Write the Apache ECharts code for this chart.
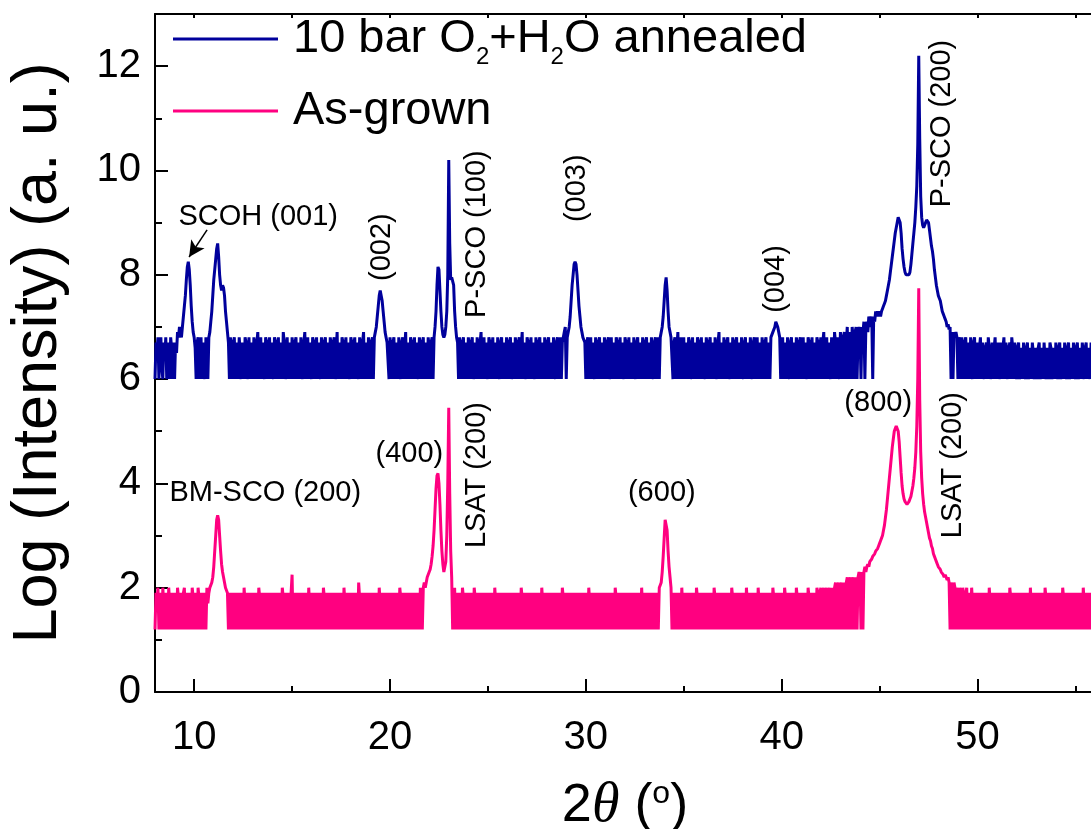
<!DOCTYPE html>
<html><head><meta charset="utf-8">
<script src="https://cdn.jsdelivr.net/npm/echarts@6/dist/echarts.min.js"></script>
<style>html,body{margin:0;padding:0;background:#fff}#chart{width:1091px;height:829px}</style>
</head><body><div id="chart"></div>
<script>
// ---------------- data ----------------
const twoThetaStart = 8.0;    // first 2θ sample (deg)
const twoThetaStep = 0.05;    // 2θ sampling step (deg)

const seriesNames = ['10 bar O2+H2O annealed', 'As-grown'];

// Log(Intensity), 10 bar O2+H2O annealed film, 2θ = 8.00 ... 56.00 (one row per degree)
const annealed = [
6.0,6.7,6.5,6.8,6.0,6.6,6.8,6.2,6.0,6.7,6.4,6.8,6.0,6.5,6.7,6.0,6.8,6.6,6.0,6.7,
6.0,6.7,6.5,6.9,6.8,7.0,6.9,6.8,7.0,7.2,7.4,7.6,7.9,8.15,8.25,8.1,7.8,7.4,7.1,6.9,
6.8,6.6,6.0,6.7,6.8,6.0,6.6,6.8,6.0,6.7,6.5,6.0,6.8,6.7,6.0,6.8,6.9,7.1,7.3,7.6,
7.9,8.1,8.3,8.5,8.6,8.35,8.0,7.8,7.7,7.8,7.75,7.6,7.3,7.1,6.9,6.7,6.0,6.8,6.6,6.0,
6.7,6.8,6.0,6.6,6.7,6.0,6.8,6.5,6.0,6.7,6.6,6.0,6.8,6.7,6.0,6.5,6.8,6.0,6.7,6.6,
6.0,6.8,6.6,6.0,6.7,6.9,6.0,6.6,6.8,6.0,6.7,6.5,6.0,6.8,6.7,6.0,6.6,6.8,6.0,6.7,
6.5,6.0,6.8,6.7,6.0,6.6,6.8,6.0,6.7,6.6,6.0,6.9,6.7,6.0,6.5,6.8,6.0,6.7,6.6,6.0,
6.8,6.6,6.0,6.7,6.8,6.0,6.6,6.7,6.0,6.8,6.5,6.0,6.7,6.9,6.0,6.6,6.8,6.0,6.7,6.5,
6.0,6.8,6.7,6.0,6.6,6.8,6.0,6.7,6.5,6.0,6.8,6.6,6.0,6.7,6.8,6.0,6.6,6.7,6.0,6.8,
6.6,6.0,6.7,6.8,6.0,6.5,6.9,6.0,6.7,6.6,6.0,6.8,6.7,6.0,6.6,6.8,6.0,6.7,6.5,6.0,
6.8,6.7,6.0,6.6,6.8,6.0,6.7,6.5,6.0,6.8,6.6,6.0,6.7,6.9,6.0,6.6,6.7,6.0,6.8,6.6,
6.0,6.7,6.8,6.0,6.8,6.9,7.0,7.2,7.4,7.6,7.7,7.7,7.5,7.3,7.1,6.9,6.8,6.7,6.7,6.0,
6.8,6.6,6.0,6.7,6.8,6.0,6.6,6.7,6.0,6.8,6.5,6.0,6.7,6.8,6.0,6.6,6.9,6.0,6.7,6.6,
6.0,6.8,6.7,6.0,6.6,6.8,6.0,6.7,6.5,6.0,6.8,6.6,6.0,6.7,6.8,6.0,6.6,6.7,6.0,6.8,
6.6,6.0,6.7,6.8,6.0,6.8,7.0,7.3,7.8,8.15,8.1,7.7,7.3,7.0,6.85,6.8,6.85,7.0,7.3,8.0,
10.2,8.6,7.9,7.95,7.95,7.8,7.3,7.0,6.8,6.7,6.0,6.8,6.6,6.0,6.7,6.8,6.0,6.6,6.7,6.0,
6.8,6.6,6.0,6.7,6.8,6.0,6.5,6.7,6.0,6.8,6.6,6.0,6.7,6.9,6.0,6.6,6.8,6.0,6.7,6.5,
6.0,6.8,6.7,6.0,6.6,6.8,6.0,6.7,6.6,6.0,6.8,6.5,6.0,6.7,6.8,6.0,6.6,6.7,6.0,6.8,
6.6,6.0,6.7,6.8,6.0,6.5,6.7,6.0,6.8,6.6,6.0,6.7,6.8,6.0,6.6,6.9,6.0,6.7,6.5,6.0,
6.8,6.7,6.0,6.6,6.8,6.0,6.7,6.5,6.0,6.8,6.6,6.0,6.7,6.8,6.0,6.6,6.7,6.0,6.8,6.6,
6.0,6.7,6.8,6.0,6.6,6.7,6.0,6.8,6.5,6.0,6.7,6.8,6.0,6.6,6.8,6.0,6.7,6.8,6.9,7.0,
6.0,6.8,6.9,7.0,7.2,7.5,7.8,8.0,8.2,8.25,8.2,8.0,7.7,7.4,7.2,7.0,6.9,6.8,6.8,6.7,
6.0,6.7,6.8,6.0,6.6,6.8,6.0,6.7,6.5,6.0,6.8,6.6,6.0,6.7,6.8,6.0,6.6,6.7,6.0,6.8,
6.6,6.0,6.7,6.8,6.0,6.5,6.8,6.0,6.7,6.6,6.0,6.8,6.7,6.0,6.6,6.8,6.0,6.7,6.5,6.0,
6.8,6.7,6.0,6.6,6.8,6.0,6.7,6.6,6.0,6.8,6.5,6.0,6.7,6.8,6.0,6.6,6.7,6.0,6.8,6.6,
6.0,6.7,6.8,6.0,6.6,6.7,6.0,6.8,6.5,6.0,6.7,6.8,6.0,6.6,6.8,6.0,6.8,6.9,7.0,7.2,
7.5,7.8,7.95,7.7,7.3,7.0,6.9,6.8,6.8,6.0,6.7,6.8,6.0,6.6,6.9,6.0,6.7,6.8,6.0,6.6,
6.8,6.0,6.7,6.6,6.0,6.8,6.7,6.0,6.5,6.8,6.0,6.7,6.6,6.0,6.8,6.7,6.0,6.6,6.8,6.0,
6.7,6.5,6.0,6.8,6.6,6.0,6.7,6.8,6.0,6.6,6.7,6.0,6.8,6.5,6.0,6.7,6.9,6.0,6.6,6.7,
6.0,6.8,6.6,6.0,6.7,6.8,6.0,6.5,6.7,6.0,6.8,6.6,6.0,6.7,6.8,6.0,6.6,6.7,6.0,6.8,
6.5,6.0,6.7,6.8,6.0,6.6,6.7,6.0,6.8,6.5,6.0,6.7,6.8,6.0,6.6,6.8,6.0,6.7,6.6,6.0,
6.8,6.6,6.0,6.7,6.8,6.0,6.6,6.7,6.0,6.8,6.8,6.9,6.9,7.0,7.1,7.1,7.0,6.9,6.8,6.0,
6.7,6.8,6.0,6.6,6.7,6.0,6.8,6.5,6.0,6.7,6.8,6.0,6.6,6.7,6.0,6.8,6.6,6.0,6.7,6.8,
6.0,6.6,6.8,6.0,6.7,6.5,6.0,6.8,6.7,6.0,6.6,6.8,6.0,6.7,6.6,6.0,6.8,6.7,6.0,6.6,
6.8,6.0,6.7,6.9,6.0,6.6,6.8,6.0,6.7,6.7,6.0,6.8,6.6,6.0,6.9,6.7,6.0,6.8,6.8,6.0,
6.9,6.7,6.0,6.8,6.9,6.0,6.7,7.0,6.0,6.8,6.9,6.0,7.0,6.8,6.0,6.9,7.0,6.0,6.8,7.0,
6.9,6.0,7.0,6.9,7.1,6.0,7.0,7.1,6.9,7.2,7.1,7.0,7.2,6.0,7.2,7.1,7.3,7.2,7.3,7.2,
7.3,7.2,7.3,7.35,7.4,7.45,7.5,7.6,7.7,7.8,7.9,8.05,8.2,8.35,8.5,8.65,8.8,8.9,9.0,9.1,
9.1,9.0,8.8,8.5,8.3,8.15,8.05,8.0,7.98,7.98,8.0,8.05,8.2,8.4,8.6,8.8,9.0,9.3,9.7,10.5,
12.2,10.6,9.5,9.1,8.95,8.9,8.95,9.0,9.05,9.05,9.0,8.85,8.7,8.55,8.45,8.3,8.1,7.95,7.8,7.7,
7.6,7.55,7.5,7.4,7.3,7.25,7.2,7.15,7.1,7.0,7.05,6.95,7.0,6.0,6.9,6.0,6.9,6.8,6.9,6.8,
6.0,6.8,6.7,6.0,6.8,6.6,6.0,6.7,6.8,6.0,6.6,6.7,6.0,6.8,6.5,6.0,6.7,6.8,6.0,6.6,
6.7,6.0,6.6,6.8,6.0,6.7,6.5,6.0,6.6,6.7,6.0,6.8,6.6,6.0,6.5,6.7,6.0,6.6,6.8,6.0,
6.6,6.7,6.0,6.5,6.7,6.0,6.6,6.8,6.0,6.7,6.5,6.0,6.6,6.7,6.0,6.8,6.6,6.0,6.7,6.5,
6.0,6.6,6.7,6.0,6.5,6.6,6.0,6.7,6.4,6.0,6.6,6.7,6.0,6.5,6.6,6.0,6.7,6.5,6.0,6.6,
6.5,6.0,6.6,6.7,6.0,6.5,6.6,6.0,6.7,6.4,6.0,6.6,6.5,6.0,6.7,6.6,6.0,6.5,6.6,6.0,
6.7,6.5,6.0,6.6,6.7,6.0,6.5,6.6,6.0,6.7,6.4,6.0,6.6,6.7,6.0,6.5,6.6,6.0,6.7,6.5,
6.0,6.6,6.7,6.0,6.5,6.6,6.0,6.7,6.5,6.0,6.6,6.7,6.0,6.6,6.5,6.0,6.7,6.6,6.0,6.6,
6.5
];

// Log(Intensity), as-grown film, 2θ = 8.00 ... 56.00 (one row per degree)
const asGrown = [
1.2,1.9,1.7,2.0,1.2,1.8,1.9,1.2,2.0,1.6,1.2,1.9,1.8,1.2,2.0,1.7,1.2,1.9,1.8,1.2,
1.9,1.6,1.2,2.0,1.8,1.2,1.9,1.7,1.2,1.9,2.0,1.2,1.8,1.9,1.2,1.7,1.9,1.2,2.0,1.8,
1.2,1.9,1.7,1.2,2.0,1.8,1.2,1.9,1.6,1.2,1.9,1.8,1.2,2.0,1.7,1.9,2.0,2.0,2.1,2.2,
2.4,2.7,3.0,3.3,3.39,3.3,3.0,2.7,2.45,2.3,2.2,2.1,2.0,2.0,1.9,1.2,1.9,1.8,1.2,1.9,
1.7,1.2,1.9,1.8,1.2,1.9,1.6,1.2,1.9,1.8,1.2,2.0,1.7,1.2,1.9,1.8,1.2,1.9,1.6,1.2,
1.9,1.8,1.2,1.9,1.7,1.2,2.0,1.8,1.2,1.9,1.6,1.2,1.9,1.8,1.2,1.9,1.7,1.2,1.9,1.8,
1.2,1.9,1.6,1.2,1.9,1.8,1.2,1.9,1.7,1.2,2.0,1.8,1.2,1.9,1.6,1.2,1.9,1.8,1.2,1.9,
2.25,1.2,1.8,1.9,1.2,1.7,1.9,1.2,1.8,1.9,1.2,1.9,1.7,1.2,1.9,1.8,1.2,2.0,1.6,1.2,
1.9,1.8,1.2,1.9,1.7,1.2,1.9,1.8,1.2,1.9,1.6,1.2,2.0,1.8,1.2,1.9,1.7,1.2,1.9,1.8,
1.2,1.9,1.7,1.2,1.9,1.8,1.2,1.9,1.6,1.2,1.9,1.8,1.2,2.0,1.7,1.2,1.9,1.8,1.2,1.9,
1.6,1.2,1.9,1.8,1.2,1.9,1.7,1.2,2.1,1.8,1.2,1.9,1.6,1.2,1.9,1.8,1.2,1.9,1.7,1.2,
1.9,1.8,1.2,1.9,1.6,1.2,1.9,1.8,1.2,2.0,1.7,1.2,1.9,1.8,1.2,1.9,1.6,1.2,1.9,1.8,
1.2,1.9,1.7,1.2,1.9,1.8,1.2,1.9,1.6,1.2,2.0,1.8,1.2,1.9,1.7,1.2,1.9,1.8,1.2,1.9,
1.6,1.2,1.9,1.8,1.2,1.9,1.7,1.2,1.9,1.8,1.2,2.0,1.9,1.2,2.0,2.1,2.0,2.1,2.2,2.2,
2.3,2.35,2.45,2.6,2.8,3.1,3.5,3.9,4.15,4.19,4.0,3.6,3.1,2.7,2.45,2.3,2.3,2.5,3.0,4.0,
5.45,3.8,2.7,2.2,1.2,1.9,2.0,1.2,1.9,1.8,1.2,1.9,1.7,1.2,2.0,1.8,1.2,1.9,1.6,1.2,
1.9,1.8,1.2,1.9,1.7,1.2,2.0,1.8,1.2,1.9,1.6,1.2,1.9,1.8,1.2,1.9,1.7,1.2,1.9,1.8,
1.2,1.9,1.6,1.2,1.9,1.8,1.2,2.0,1.7,1.2,1.9,1.8,1.2,1.9,1.6,1.2,1.9,1.8,1.2,1.9,
1.7,1.2,1.9,1.8,1.2,1.9,1.6,1.2,1.9,1.8,1.2,1.9,1.7,1.2,2.0,1.8,1.2,1.9,1.6,1.2,
1.9,1.8,1.2,1.9,1.7,1.2,1.9,1.8,1.2,1.9,1.6,1.2,1.9,1.8,1.2,2.0,1.7,1.2,1.9,1.8,
1.2,1.9,1.6,1.2,1.9,1.8,1.2,1.9,1.7,1.2,1.9,1.8,1.2,1.9,1.6,1.2,2.0,1.8,1.2,1.9,
1.7,1.2,1.9,1.8,1.2,1.9,1.6,1.2,1.9,1.8,1.2,1.9,1.7,1.2,1.9,1.8,1.2,1.9,1.6,1.2,
1.9,1.8,1.2,2.0,1.7,1.2,1.9,1.8,1.2,1.9,1.6,1.2,1.9,1.8,1.2,1.9,1.7,1.2,1.9,1.8,
1.2,1.9,1.6,1.2,1.9,1.8,1.2,1.9,1.7,1.2,2.0,1.8,1.2,1.9,1.6,1.2,1.9,1.8,1.2,1.9,
1.7,1.2,1.9,1.8,1.2,1.9,1.6,1.2,1.9,1.8,1.2,1.9,1.7,1.2,1.9,1.8,1.2,2.0,1.6,1.2,
1.9,1.8,1.2,1.9,1.7,1.2,1.9,1.8,1.2,1.9,1.6,1.2,1.9,1.8,1.2,2.0,2.0,2.1,2.3,2.6,
2.95,3.3,3.33,3.1,2.7,2.4,2.2,2.0,1.2,1.9,1.8,1.2,1.9,1.7,1.2,1.9,1.8,1.2,2.0,1.6,
1.2,1.9,1.8,1.2,1.9,1.7,1.2,1.9,1.8,1.2,1.9,1.6,1.2,2.0,1.8,1.2,1.9,1.7,1.2,1.9,
1.8,1.2,1.9,1.6,1.2,1.9,1.8,1.2,1.9,1.7,1.2,2.0,1.8,1.2,1.9,1.6,1.2,1.9,1.8,1.2,
1.9,1.7,1.2,1.9,1.8,1.2,1.9,1.6,1.2,2.0,1.8,1.2,1.9,1.7,1.2,1.9,1.8,1.2,1.9,1.6,
1.2,1.9,1.8,1.2,2.0,1.7,1.2,1.9,1.8,1.2,1.9,1.6,1.2,1.9,1.8,1.2,2.0,1.7,1.2,1.9,
1.8,1.2,1.9,1.6,1.2,1.9,1.8,1.2,1.9,1.7,1.2,2.0,1.8,1.2,1.9,1.6,1.2,1.9,1.8,1.2,
1.9,1.7,1.2,2.0,1.8,1.2,1.9,1.6,1.2,1.9,1.8,1.2,1.9,1.7,1.2,2.0,1.8,1.2,1.9,1.6,
1.2,1.9,1.8,1.2,1.9,1.7,1.2,2.0,1.8,1.2,1.9,1.6,1.2,1.9,1.8,1.2,2.0,1.9,1.2,1.9,
2.0,1.2,1.9,2.0,1.2,1.8,2.0,1.2,1.9,2.0,1.2,2.0,1.9,1.2,2.0,2.1,1.2,1.9,2.1,1.2,
2.0,2.1,1.2,2.1,2.0,1.2,2.1,2.2,1.2,2.0,2.2,1.2,2.1,2.2,1.2,2.2,2.1,1.2,2.2,2.3,
2.2,1.2,2.3,1.2,2.3,2.4,2.3,2.4,2.45,2.4,2.5,2.5,2.55,2.6,2.6,2.65,2.7,2.7,2.75,2.8,
2.85,2.9,2.95,3.0,3.1,3.2,3.35,3.5,3.7,3.9,4.1,4.3,4.5,4.7,4.85,5.0,5.05,5.1,5.12,5.0,
4.8,4.5,4.2,3.95,3.8,3.7,3.65,3.62,3.6,3.62,3.65,3.7,3.75,3.85,3.95,4.1,4.3,4.6,5.1,6.0,
7.74,5.6,4.6,4.1,3.8,3.6,3.45,3.35,3.25,3.15,3.05,2.95,2.9,2.8,2.75,2.65,2.6,2.55,2.5,2.45,
2.4,2.4,2.35,2.3,2.3,2.25,2.2,2.25,2.2,2.15,2.2,2.1,1.2,2.1,2.0,1.2,2.1,2.0,1.2,2.0,
1.9,1.2,2.0,1.9,1.2,2.0,1.8,1.2,1.9,2.0,1.2,1.9,1.8,1.2,2.0,1.7,1.2,1.9,1.8,1.2,
1.9,1.7,1.2,1.9,1.8,1.2,1.9,1.6,1.2,1.9,1.8,1.2,2.0,1.7,1.2,1.9,1.8,1.2,1.9,1.6,
1.2,1.9,1.8,1.2,1.9,1.7,1.2,1.9,1.8,1.2,1.9,1.6,1.2,2.0,1.8,1.2,1.9,1.7,1.2,1.9,
1.8,1.2,1.9,1.6,1.2,1.9,1.8,1.2,1.9,1.7,1.2,1.9,1.8,1.2,2.0,1.6,1.2,1.9,1.8,1.2,
1.9,1.7,1.2,1.9,1.8,1.2,1.9,1.6,1.2,2.0,1.8,1.2,1.9,1.7,1.2,1.9,1.8,1.2,1.9,1.6,
1.2,1.9,1.8,1.2,1.9,1.7,1.2,2.0,1.8,1.2,1.9,1.6,1.2,1.9,1.8,1.2,1.9,1.7,1.2,1.9,
1.8,1.2,1.9,1.6,1.2,1.9,1.8,1.2,2.0,1.7,1.2,1.9,1.8,1.2,1.9,1.6,1.2,1.9,1.8,1.2,
1.9
];

// axis ticks
const xMajorTicks = [10, 20, 30, 40, 50];
const xMinorTicks = [15, 25, 35, 45, 55];
const yMajorTicks = [0, 2, 4, 6, 8, 10, 12];
const yMinorTicks = [1, 3, 5, 7, 9, 11];

// peak annotations (data coordinates of label centre)
const peakLabels = [
  { text: 'SCOH (001)',   x: 13.27, y: 9.10, vertical: false },
  { text: '(002)',        x: 19.59, y: 8.53, vertical: true },
  { text: 'P-SCO (100)',  x: 24.44, y: 8.78, vertical: true },
  { text: '(003)',        x: 29.55, y: 9.66, vertical: true },
  { text: '(004)',        x: 39.71, y: 7.92, vertical: true },
  { text: 'P-SCO (200)',  x: 48.20, y: 10.90, vertical: true },
  { text: 'BM-SCO (200)', x: 13.63, y: 3.82, vertical: false },
  { text: '(400)',        x: 20.99, y: 4.56, vertical: false },
  { text: 'LSAT (200)',   x: 24.42, y: 4.16, vertical: true },
  { text: '(600)',        x: 33.88, y: 3.82, vertical: false },
  { text: '(800)',        x: 44.93, y: 5.54, vertical: false },
  { text: 'LSAT (200)',   x: 48.77, y: 4.35, vertical: true }
];
const arrowFrom = [10.66, 8.86];
const arrowTo = [9.74, 8.34];

// ---------------- chart ----------------
const FONT = '"Liberation Sans", Arial, Helvetica, sans-serif';
const toPairs = arr => arr.map((v, i) => [+(twoThetaStart + i * twoThetaStep).toFixed(2), v]);

const chart = echarts.init(document.getElementById('chart'), null, { renderer: 'canvas' });

const axisLineStyle = { color: '#000', width: 2 };
const baseX = { type: 'value', min: 8, max: 56, splitLine: { show: false }, gridIndex: 0 };
const baseY = { type: 'value', min: 0, max: 13, splitLine: { show: false }, gridIndex: 0 };

const option = {
  animation: false,
  backgroundColor: '#fff',
  grid: { left: 155, right: -4, top: 14, bottom: 137, containLabel: false, outerBoundsMode: 'none' },
  legend: {
    orient: 'vertical', left: 173, top: 9, padding: 0, itemGap: 12,
    itemWidth: 105, itemHeight: 3, icon: 'rect',
    data: seriesNames,
    formatter: n => n === seriesNames[0] ? '10 bar O{sub|2}+H{sub|2}O annealed' : n,
    textStyle: {
      fontFamily: FONT, fontSize: 47, lineHeight: 60, color: '#000', padding: [0, 0, 0, 10],
      rich: { sub: { fontFamily: FONT, fontSize: 24, lineHeight: 10, verticalAlign: 'bottom', color: '#000' } }
    }
  },
  xAxis: [
    Object.assign({}, baseX, {
      position: 'bottom',
      name: '2{it|θ} ({sup|o})', nameLocation: 'middle', nameGap: 86,
      nameTextStyle: {
        fontFamily: FONT, fontSize: 54, color: '#000',
        rich: {
          it: { fontFamily: '"Liberation Serif", "DejaVu Serif", serif', fontStyle: 'italic', fontSize: 56, color: '#000' },
          sup: { fontFamily: FONT, fontSize: 32, verticalAlign: 'top', lineHeight: 30, color: '#000' }
        }
      },
      axisLine: { show: true, lineStyle: axisLineStyle },
      axisTick: { show: true, inside: true, length: 13, lineStyle: axisLineStyle, customValues: xMajorTicks },
      axisLabel: { show: true, fontFamily: FONT, fontSize: 40, color: '#000', margin: 26, customValues: xMajorTicks }
    }),
    Object.assign({}, baseX, {
      position: 'bottom',
      axisLine: { show: false },
      axisTick: { show: true, inside: true, length: 6, lineStyle: axisLineStyle, customValues: xMinorTicks },
      axisLabel: { show: false }
    }),
    Object.assign({}, baseX, {
      position: 'top',
      axisLine: { show: true, lineStyle: axisLineStyle },
      axisTick: { show: true, inside: true, length: 4, lineStyle: axisLineStyle, customValues: xMajorTicks.concat(xMinorTicks) },
      axisLabel: { show: false }
    })
  ],
  yAxis: [
    Object.assign({}, baseY, {
      position: 'left',
      name: 'Log (Intensity) (a. u.)', nameLocation: 'middle', nameGap: 85, nameRotate: 90,
      nameTextStyle: { fontFamily: FONT, fontSize: 63, color: '#000' },
      axisLine: { show: true, lineStyle: axisLineStyle },
      axisTick: { show: true, inside: true, length: 13, lineStyle: axisLineStyle, customValues: yMajorTicks },
      axisLabel: { show: true, fontFamily: FONT, fontSize: 40, color: '#000', margin: 14, customValues: yMajorTicks }
    }),
    Object.assign({}, baseY, {
      position: 'left',
      axisLine: { show: false },
      axisTick: { show: true, inside: true, length: 7, lineStyle: axisLineStyle, customValues: yMinorTicks },
      axisLabel: { show: false }
    })
  ],
  series: [
    {
      name: seriesNames[0], type: 'line', xAxisIndex: 0, yAxisIndex: 0,
      data: toPairs(annealed), showSymbol: false, symbol: 'none',
      lineStyle: { color: '#00009C', width: 3 }, itemStyle: { color: '#00009C' },
      z: 3,
      markLine: {
        silent: true, animation: false, symbol: ['none', 'arrow'], symbolSize: [12, 16],
        label: { show: false },
        lineStyle: { color: '#000', width: 1.5, type: 'solid' },
        data: [[{ coord: arrowFrom }, { coord: arrowTo }]]
      }
    },
    {
      name: seriesNames[1], type: 'line', xAxisIndex: 0, yAxisIndex: 0,
      data: toPairs(asGrown), showSymbol: false, symbol: 'none',
      lineStyle: { color: '#FF0080', width: 3 }, itemStyle: { color: '#FF0080' },
      z: 2
    }
  ]
};
chart.setOption(option);

const graphics = peakLabels.map(l => {
  const p = chart.convertToPixel({ seriesIndex: 0 }, [l.x, l.y]);
  return {
    type: 'text', x: p[0], y: p[1], rotation: l.vertical ? Math.PI / 2 : 0, z: 100,
    style: { text: l.text, fontFamily: FONT, fontSize: 29, fill: '#000', align: 'center', verticalAlign: 'middle' }
  };
});
chart.setOption({ graphic: graphics });
</script>
</body></html>
